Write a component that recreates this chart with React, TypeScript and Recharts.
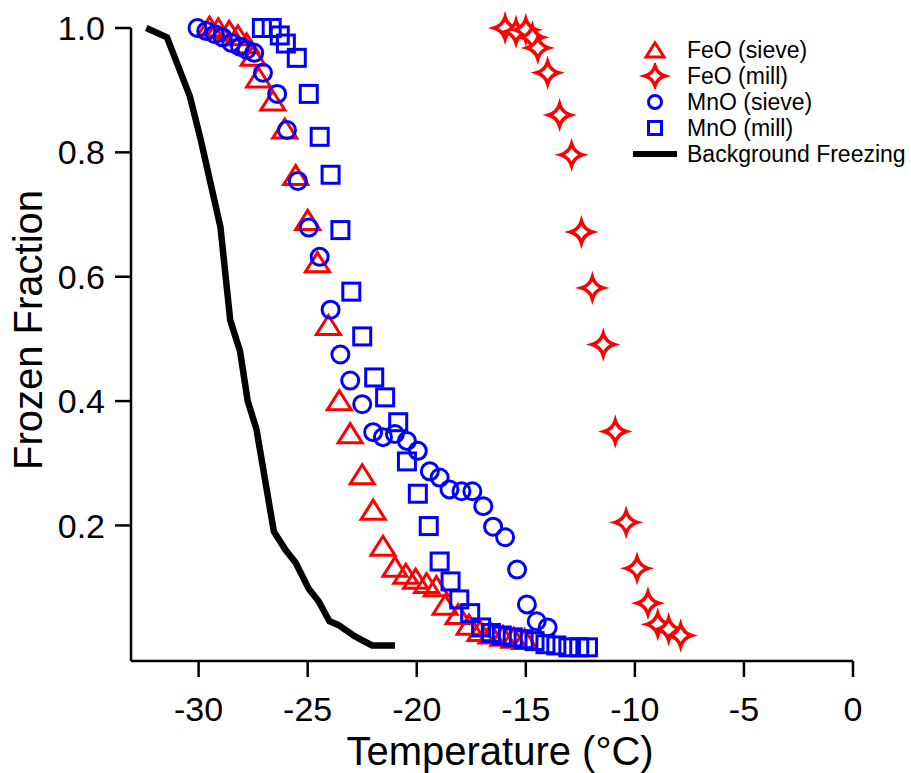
import { ScatterChart, Scatter, XAxis, YAxis, Label } from 'recharts';

// [temperature °C, frozen fraction]
const feoSieve: [number, number][] = [
  [-29.5, 1.0], [-29.1, 0.997], [-28.6, 0.993], [-28.2, 0.986], [-27.8, 0.973], [-27.5, 0.953],
  [-27.25, 0.918], [-26.6, 0.881], [-26.05, 0.836], [-25.55, 0.761], [-25.0, 0.689], [-24.55, 0.621],
  [-24.05, 0.52], [-23.55, 0.399], [-23.05, 0.346], [-22.5, 0.28], [-22.0, 0.223], [-21.55, 0.165],
  [-21.0, 0.131], [-20.5, 0.12], [-20.05, 0.112], [-19.55, 0.105], [-19.1, 0.1], [-18.7, 0.07],
  [-18.1, 0.055], [-17.6, 0.038], [-17.1, 0.028], [-16.6, 0.024], [-16.05, 0.02], [-15.55, 0.017],
  [-15.05, 0.015],
];

const feoMill: [number, number][] = [
  [-15.95, 1.0], [-15.45, 0.994], [-15.0, 0.997], [-14.7, 0.985], [-14.45, 0.968], [-14.0, 0.928],
  [-13.45, 0.86], [-12.9, 0.796], [-12.45, 0.672], [-11.95, 0.582], [-11.45, 0.491], [-10.9, 0.351],
  [-10.4, 0.205], [-9.9, 0.131], [-9.4, 0.075], [-8.95, 0.041], [-8.45, 0.033], [-7.9, 0.023],
];

const mnoSieve: [number, number][] = [
  [-30.05, 1.0], [-29.65, 0.995], [-29.25, 0.99], [-28.9, 0.985], [-28.5, 0.976], [-28.1, 0.97],
  [-27.8, 0.965], [-27.45, 0.96], [-27.05, 0.928], [-26.4, 0.894], [-25.95, 0.836], [-25.45, 0.754],
  [-24.95, 0.679], [-24.45, 0.632], [-23.95, 0.547], [-23.5, 0.475], [-23.05, 0.433], [-22.5, 0.395],
  [-22.0, 0.35], [-21.55, 0.342], [-21.0, 0.347], [-20.45, 0.336], [-19.95, 0.32], [-19.4, 0.287],
  [-18.95, 0.277], [-18.5, 0.258], [-17.95, 0.255], [-17.45, 0.255], [-16.95, 0.231], [-16.5, 0.198],
  [-15.95, 0.181], [-15.4, 0.129], [-14.95, 0.073], [-14.5, 0.046], [-14.0, 0.036],
];

const mnoMill: [number, number][] = [
  [-27.1, 1.0], [-26.65, 1.0], [-26.28, 0.988], [-26.0, 0.975], [-25.5, 0.952], [-24.95, 0.894],
  [-24.45, 0.825], [-23.95, 0.764], [-23.5, 0.675], [-23.0, 0.576], [-22.5, 0.504], [-21.95, 0.438],
  [-21.45, 0.406], [-20.85, 0.366], [-20.45, 0.303], [-19.95, 0.251], [-19.45, 0.199], [-18.95, 0.142],
  [-18.45, 0.11], [-18.05, 0.081], [-17.55, 0.059], [-17.05, 0.036], [-16.6, 0.027], [-16.1, 0.023],
  [-15.6, 0.02], [-15.1, 0.017], [-14.6, 0.014], [-14.1, 0.009], [-13.6, 0.007], [-13.05, 0.004],
  [-12.55, 0.004], [-12.15, 0.004],
];

const background: [number, number][] = [
  [-32.4, 1.0], [-31.45, 0.985], [-30.4, 0.89], [-29.9, 0.82], [-29.0, 0.68], [-28.55, 0.53],
  [-28.1, 0.48], [-27.75, 0.4], [-27.35, 0.355], [-26.55, 0.19], [-26.0, 0.16], [-25.55, 0.14],
  [-24.95, 0.098], [-24.5, 0.078], [-24.0, 0.046], [-23.6, 0.04], [-22.85, 0.022], [-22.05, 0.007],
  [-21.0, 0.007],
];

const xTicks = [-30, -25, -20, -15, -10, -5, 0];
const yTicks = [0.2, 0.4, 0.6, 0.8, 1.0];

const RED = '#ff0000';
const BLUE = '#0000ff';
const FONT = '"Liberation Sans", Arial, sans-serif';

const toPoints = (arr: [number, number][]) => arr.map(([x, y]) => ({ x, y }));

const triPath = (cx: number, cy: number, s: number) =>
  `M${cx},${cy - 11 * s} L${cx + 12 * s},${cy + 8 * s} L${cx - 12 * s},${cy + 8 * s} Z`;

const starPath = (cx: number, cy: number, s: number) => {
  const r = 11 * s;
  const k = 2.5 * s;
  return `M${cx},${cy - r} Q${cx + k},${cy - k} ${cx + r},${cy} Q${cx + k},${cy + k} ${cx},${cy + r} Q${cx - k},${cy + k} ${cx - r},${cy} Q${cx - k},${cy - k} ${cx},${cy - r} Z`;
};

const TriangleShape = (p: any) => (
  <path d={triPath(p.cx, p.cy, 1)} fill="none" stroke={RED} strokeWidth={3} strokeLinejoin="miter" />
);
const StarShape = (p: any) => (
  <path d={starPath(p.cx, p.cy, 1)} fill="#fff" stroke={RED} strokeWidth={3.5} />
);
const CircleShape = (p: any) => (
  <circle cx={p.cx} cy={p.cy} r={8.5} fill="none" stroke={BLUE} strokeWidth={3} />
);
const SquareShape = (p: any) => (
  <rect x={p.cx - 8.5} y={p.cy - 8.5} width={17} height={17} fill="none" stroke={BLUE} strokeWidth={3} />
);
const NoShape = () => <g />;

const legendItems = [
  { name: 'FeO (sieve)', icon: <path d={triPath(25, 14, 0.75)} fill="none" stroke={RED} strokeWidth={3} /> },
  { name: 'FeO (mill)', icon: <path d={starPath(25, 13, 0.9)} fill="#fff" stroke={RED} strokeWidth={3.5} /> },
  { name: 'MnO (sieve)', icon: <circle cx={25} cy={13} r={6.5} fill="none" stroke={BLUE} strokeWidth={3} /> },
  { name: 'MnO (mill)', icon: <rect x={18.5} y={6.5} width={13} height={13} fill="none" stroke={BLUE} strokeWidth={3} /> },
  { name: 'Background Freezing', icon: <line x1={3} x2={47} y1={13} y2={13} stroke="#000" strokeWidth={6} /> },
];

export default function App() {
  return (
    <div style={{ position: 'absolute', left: 0, top: 0, width: 911, height: 773, background: '#fff' }}>
      <ScatterChart width={911} height={773} margin={{ top: 28, right: 58, bottom: 0, left: 0 }}>
        <XAxis
          type="number"
          dataKey="x"
          domain={[-33.1, 0]}
          ticks={xTicks}
          height={112}
          tickSize={16}
          tickMargin={20}
          axisLine={{ stroke: '#000', strokeWidth: 2.5 }}
          tickLine={{ stroke: '#000', strokeWidth: 2.5 }}
          tick={{ fill: '#000', fontSize: 34, fontFamily: FONT }}
        >
          <Label
            content={() => (
              <text x={500} y={765} textAnchor="middle" fontSize={40} fontFamily={FONT} fill="#000">
                Temperature (°C)
              </text>
            )}
          />
        </XAxis>
        <YAxis
          type="number"
          dataKey="y"
          domain={[-0.018, 1]}
          ticks={yTicks}
          width={131}
          tickSize={16}
          tickMargin={10}
          tickFormatter={(v: number) => v.toFixed(1)}
          axisLine={{ stroke: '#000', strokeWidth: 2.5 }}
          tickLine={{ stroke: '#000', strokeWidth: 2.5 }}
          tick={{ fill: '#000', fontSize: 34, fontFamily: FONT }}
        >
          <Label
            content={() => (
              <text
                x={28}
                y={330}
                transform="rotate(-90, 28, 330)"
                textAnchor="middle"
                dominantBaseline="central"
                fontSize={40}
                fontFamily={FONT}
                fill="#000"
              >
                Frozen Fraction
              </text>
            )}
          />
        </YAxis>
        <Scatter
          name="Background Freezing"
          data={toPoints(background)}
          line={{ stroke: '#000', strokeWidth: 6.5 }}
          lineType="joint"
          shape={NoShape}
          isAnimationActive={false}
        />
        <Scatter name="FeO (sieve)" data={toPoints(feoSieve)} shape={TriangleShape} isAnimationActive={false} />
        <Scatter name="FeO (mill)" data={toPoints(feoMill)} shape={StarShape} isAnimationActive={false} />
        <Scatter name="MnO (sieve)" data={toPoints(mnoSieve)} shape={CircleShape} isAnimationActive={false} />
        <Scatter name="MnO (mill)" data={toPoints(mnoMill)} shape={SquareShape} isAnimationActive={false} />
      </ScatterChart>
      <div style={{ position: 'absolute', left: 630, top: 37, fontFamily: FONT, fontSize: 23, color: '#000' }}>
        {legendItems.map((item) => (
          <div key={item.name} style={{ display: 'flex', alignItems: 'center', height: 26 }}>
            <svg width={50} height={26} style={{ flex: 'none' }}>
              {item.icon}
            </svg>
            <span style={{ marginLeft: 7, whiteSpace: 'nowrap', lineHeight: '26px' }}>{item.name}</span>
          </div>
        ))}
      </div>
    </div>
  );
}
